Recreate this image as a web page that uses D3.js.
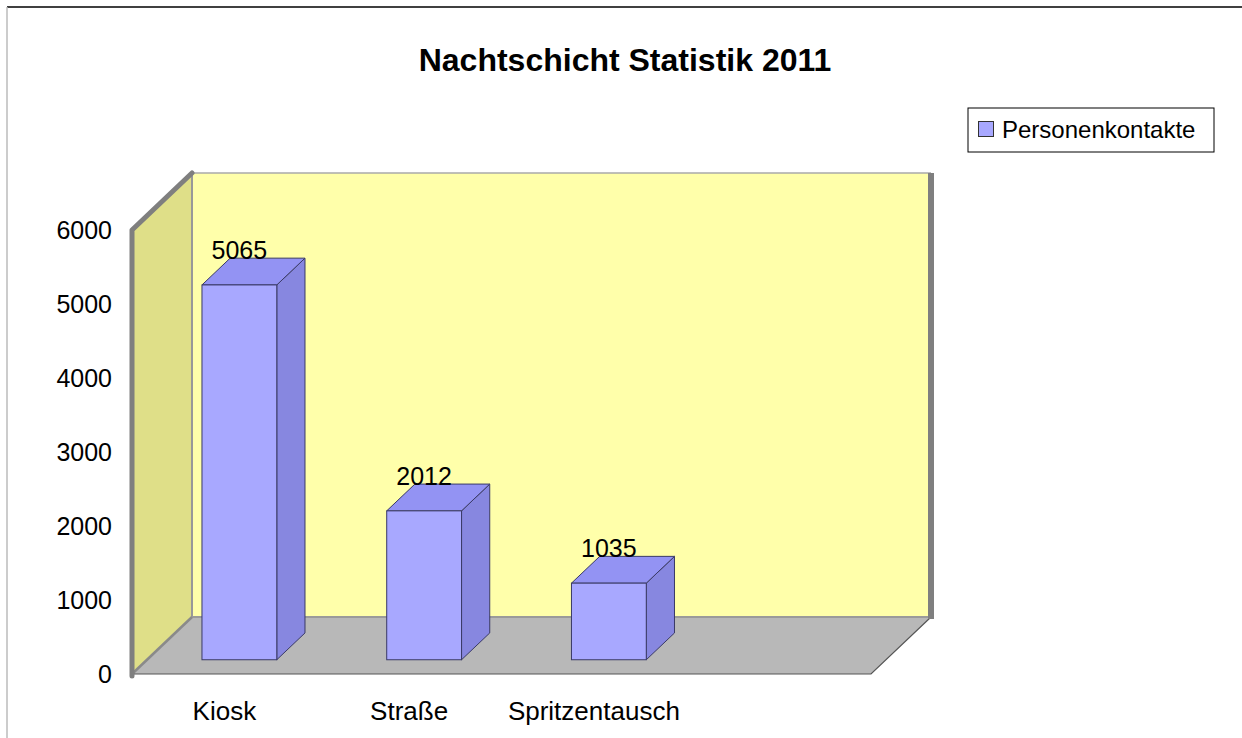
<!DOCTYPE html>
<meta charset="utf-8">
<style>
  body { margin: 0; background: #fff; }
  text { font-family: "Liberation Sans", Arial, sans-serif; }
</style>
<script src="https://d3js.org/d3.v7.min.js"></script>
<div id="chart"></div>
<script>
// data
var categories = ["Kiosk", "Straße", "Spritzentausch", ""];
var values = [5065, 2012, 1035, null];
var yTicks = [0, 1000, 2000, 3000, 4000, 5000, 6000];
var seriesName = "Personenkontakte";
var title = "Nachtschicht Statistik 2011";

var W = 1242, H = 738;
// depth of the 3d box (full), front plane of the bars
var DX = 60, DY = -57;
var d0 = 0.25, d1 = 0.72;

var svg = d3.select("#chart").append("svg")
  .attr("width", W).attr("height", H);

// frame
svg.append("line").attr("x1", 7).attr("x2", W).attr("y1", 7).attr("y2", 7)
  .attr("stroke", "#000").attr("stroke-width", 1.5);
svg.append("line").attr("x1", 7).attr("x2", 7).attr("y1", 7).attr("y2", H)
  .attr("stroke", "#bbb").attr("stroke-width", 1.5);

var x = d3.scaleBand().domain(categories).range([132, 871]);
var y = d3.scaleLinear().domain([0, 6000]).range([674, 230]);

var x0 = x.range()[0], x1 = x.range()[1];
var yb = y(0), yt = y(6000);

function pts(a) { return a.map(function(p) { return p.join(","); }).join(" "); }

// back wall
svg.append("rect")
  .attr("x", x0 + DX).attr("y", yt + DY)
  .attr("width", x1 - x0).attr("height", yb - yt)
  .attr("fill", "#ffffaa");
// left wall
svg.append("polygon")
  .attr("points", pts([[x0, yb], [x0, yt], [x0 + DX, yt + DY], [x0 + DX, yb + DY]]))
  .attr("fill", "#dfdf88");
// floor
svg.append("polygon")
  .attr("points", pts([[x0, yb], [x1, yb], [x1 + DX, yb + DY], [x0 + DX, yb + DY]]))
  .attr("fill", "#b8b8b8");

// edges
svg.append("line").attr("x1", x0 + DX).attr("x2", x1 + DX)
  .attr("y1", yt + DY).attr("y2", yt + DY).attr("stroke", "#aaa").attr("stroke-width", 1.5);
svg.append("line").attr("x1", x0 + DX).attr("x2", x1 + DX)
  .attr("y1", yb + DY).attr("y2", yb + DY).attr("stroke", "#9a9a9a").attr("stroke-width", 2);
svg.append("line").attr("x1", x0 + DX).attr("x2", x0 + DX)
  .attr("y1", yt + DY).attr("y2", yb + DY).attr("stroke", "#999").attr("stroke-width", 2);
svg.append("line").attr("x1", x0).attr("x2", x0 + DX)
  .attr("y1", yb).attr("y2", yb + DY).attr("stroke", "#8a8a8a").attr("stroke-width", 2.5);
svg.append("polyline")
  .attr("points", pts([[x0, yb], [x1, yb], [x1 + DX, yb + DY]]))
  .attr("fill", "none").attr("stroke", "#555").attr("stroke-width", 1.2);
svg.append("polyline")
  .attr("points", pts([[x0, yb + 2], [x0, yt], [x0 + DX, yt + DY]]))
  .attr("fill", "none").attr("stroke", "#7f7f7f").attr("stroke-width", 5)
  .attr("stroke-linejoin", "round").attr("stroke-linecap", "round");
svg.append("line").attr("x1", x1 + DX).attr("x2", x1 + DX)
  .attr("y1", yt + DY).attr("y2", yb + DY + 2)
  .attr("stroke", "#7f7f7f").attr("stroke-width", 6);

// y axis
var yAxis = svg.append("g")
  .attr("transform", "translate(" + x0 + ",0)")
  .call(d3.axisLeft(y).tickValues(yTicks).tickSize(0).tickPadding(20).tickFormat(d3.format("d")));
yAxis.select(".domain").remove();
yAxis.selectAll("text")
  .style("font-family", "'Liberation Sans', Arial, sans-serif")
  .attr("font-size", 25).attr("fill", "#000");

// bars
var bw = x.bandwidth(), barW = bw * 0.405;
var ddx = DX * (d1 - d0), ddy = DY * (d1 - d0);
var bars = svg.append("g").selectAll("g")
  .data(categories.map(function(c, i) { return { c: c, v: values[i] }; })
    .filter(function(d) { return d.v != null; }))
  .enter().append("g");

bars.each(function(d) {
  var g = d3.select(this);
  var bx0 = x(d.c) + (bw - barW) / 2 + DX * d0;
  var bx1 = bx0 + barW;
  var top = y(d.v) + DY * d0;
  var bot = y(0) + DY * d0;
  g.append("polygon")
    .attr("points", pts([[bx1, top], [bx1 + ddx, top + ddy], [bx1 + ddx, bot + ddy], [bx1, bot]]))
    .attr("fill", "#8787e0").attr("stroke", "#3a3a66").attr("stroke-width", 1);
  g.append("polygon")
    .attr("points", pts([[bx0, top], [bx1, top], [bx1 + ddx, top + ddy], [bx0 + ddx, top + ddy]]))
    .attr("fill", "#9393f3").attr("stroke", "#3a3a66").attr("stroke-width", 1);
  g.append("rect")
    .attr("x", bx0).attr("y", top).attr("width", barW).attr("height", bot - top)
    .attr("fill", "#a8a8ff").attr("stroke", "#3a3a66").attr("stroke-width", 1);
  g.append("text")
    .attr("x", bx0 + barW / 2).attr("y", top + ddy + 1)
    .attr("text-anchor", "middle").attr("font-size", 25)
    .text(d.v);
});

// category labels
svg.append("g").selectAll("text")
  .data(categories.filter(function(c) { return c !== ""; }))
  .enter().append("text")
  .attr("x", function(c) { return x(c) + bw / 2; })
  .attr("y", 720)
  .attr("text-anchor", "middle").attr("font-size", 26)
  .text(function(c) { return c; });

// title
svg.append("text")
  .attr("x", 625).attr("y", 71)
  .attr("text-anchor", "middle").attr("font-size", 32).attr("font-weight", "bold")
  .text(title);

// legend
var leg = svg.append("g");
leg.append("rect").attr("x", 968).attr("y", 108).attr("width", 246).attr("height", 44)
  .attr("fill", "#fff").attr("stroke", "#000").attr("stroke-width", 1);
leg.append("rect").attr("x", 978.5).attr("y", 121.5).attr("width", 15).attr("height", 15)
  .attr("fill", "#a8a8ff").attr("stroke", "#333").attr("stroke-width", 1);
leg.append("text").attr("x", 1002).attr("y", 138).attr("font-size", 24).text(seriesName);
</script>
